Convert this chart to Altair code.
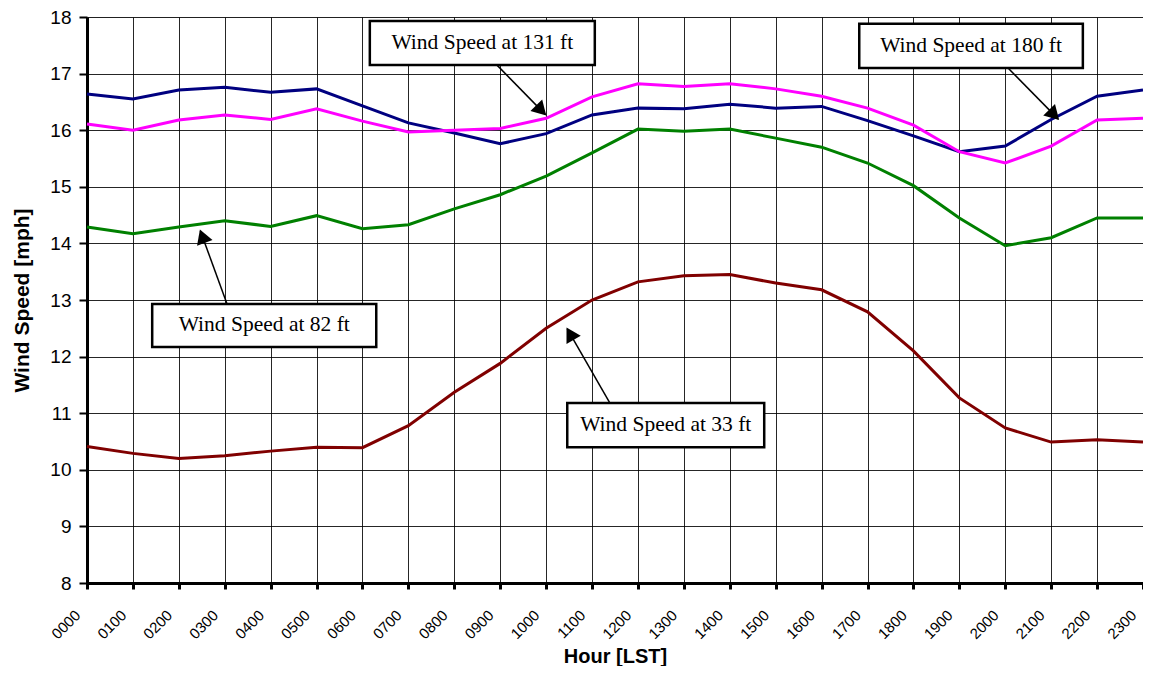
import math
import altair as alt
import pandas as pd

hours = ["0000", "0100", "0200", "0300", "0400", "0500", "0600", "0700", "0800", "0900",
         "1000", "1100", "1200", "1300", "1400", "1500", "1600", "1700", "1800", "1900",
         "2000", "2100", "2200", "2300"]

ws_180 = [16.64, 16.55, 16.71, 16.76, 16.67, 16.73, 16.43, 16.13, 15.95, 15.76,
          15.94, 16.27, 16.39, 16.38, 16.46, 16.39, 16.42, 16.17, 15.90, 15.62,
          15.72, 16.19, 16.60, 16.71]
ws_131 = [16.11, 16.00, 16.18, 16.27, 16.19, 16.38, 16.16, 15.97, 16.00, 16.03,
          16.21, 16.59, 16.82, 16.77, 16.82, 16.73, 16.60, 16.39, 16.09, 15.62,
          15.42, 15.72, 16.18, 16.21]
ws_82 = [14.29, 14.17, 14.29, 14.40, 14.30, 14.49, 14.26, 14.33, 14.61, 14.86,
         15.19, 15.60, 16.02, 15.98, 16.02, 15.86, 15.70, 15.42, 15.02, 14.45,
         13.96, 14.10, 14.45, 14.45]
ws_33 = [10.41, 10.29, 10.20, 10.25, 10.33, 10.40, 10.39, 10.78, 11.37, 11.88,
         12.50, 13.00, 13.32, 13.43, 13.45, 13.30, 13.18, 12.79, 12.10, 11.27,
         10.74, 10.49, 10.53, 10.49]

series_names = ["180 ft", "131 ft", "82 ft", "33 ft"]
series_colors = ["#000080", "#FF00FF", "#008000", "#800000"]

# annotation labels, boxes (hour x1, x2, speed y1, y2) and arrows (from -> to) in data units
ann_text = ["Wind Speed at 131 ft", "Wind Speed at 180 ft", "Wind Speed at 82 ft", "Wind Speed at 33 ft"]
box_x1 = [6.16, 16.82, 1.42, 10.46]
box_x2 = [11.06, 21.69, 6.30, 14.75]
box_y1 = [17.15, 17.10, 12.17, 10.40]
box_y2 = [17.93, 17.88, 12.93, 11.18]
arr_x1 = [8.93, 20.06, 3.05, 11.39]
arr_y1 = [17.15, 17.10, 12.93, 11.18]
arr_x2 = [9.98, 21.15, 2.47, 10.46]
arr_y2 = [16.28, 16.20, 14.22, 12.49]

W, H = 1056, 566
X_MAX, Y_MIN, Y_MAX = 23.0, 8.0, 18.0
px_x = W / X_MAX
px_y = H / (Y_MAX - Y_MIN)

rows = []
for name, vals in zip(series_names, [ws_180, ws_131, ws_82, ws_33]):
    for i, v in enumerate(vals):
        rows.append({"h": float(i), "hour": hours[i], "speed": v, "series": name})
df = pd.DataFrame(rows)

boxes = pd.DataFrame({"x1": box_x1, "x2": box_x2, "y1": box_y1, "y2": box_y2,
                      "xc": [(a + b) / 2 for a, b in zip(box_x1, box_x2)],
                      "yc": [(a + b) / 2 for a, b in zip(box_y1, box_y2)],
                      "label": ann_text})

heads = []
for x1, y1, x2, y2 in zip(arr_x1, arr_y1, arr_x2, arr_y2):
    dx = (x2 - x1) * px_x
    dy = -(y2 - y1) * px_y
    ang = math.degrees(math.atan2(dx, -dy)) % 360
    L = math.hypot(dx, dy)
    back = 8.0
    hx = x2 - (dx / L) * back / px_x
    hy = y2 + (dy / L) * back / px_y
    heads.append({"hx": hx, "hy": hy, "ang": ang})
arrows = pd.DataFrame({"x1": arr_x1, "y1": arr_y1, "x2": arr_x2, "y2": arr_y2})
headdf = pd.DataFrame(heads)

xscale = alt.Scale(domain=[0, X_MAX], nice=False, zero=False)
yscale = alt.Scale(domain=[Y_MIN, Y_MAX], nice=False, zero=False)

label_expr = "pad(format(datum.value * 100, 'd'), 4, '0', 'left')"

x_axis = alt.Axis(values=list(range(24)), labelExpr=label_expr, title="Hour [LST]",
                  labelAngle=-45, labelAlign="right", labelBaseline="bottom",
                  labelFontSize=15, labelFont="Liberation Sans", labelColor="black",
                  labelPadding=29, labelOffset=-4,
                  titleFont="Liberation Sans", titleFontSize=20, titleFontWeight="bold",
                  titleColor="black", titleBaseline="alphabetic", titleY=79,
                  grid=True, gridColor="black", gridWidth=1, gridOpacity=0.85,
                  domainColor="black", domainWidth=3, tickColor="black", tickWidth=3, tickSize=6)
y_axis = alt.Axis(values=list(range(8, 19)), format="d", title="Wind Speed [mph]",
                  labelFontSize=19, labelFont="Liberation Sans", labelColor="black", labelPadding=8,
                  titleFont="Liberation Sans", titleFontSize=21, titleFontWeight="bold",
                  titleColor="black", titlePadding=17,
                  grid=True, gridColor="black", gridWidth=1, gridOpacity=0.85,
                  domainColor="black", domainWidth=3, tickColor="black", tickWidth=2, tickSize=8)

lines = alt.Chart(df).mark_line(strokeWidth=3).encode(
    x=alt.X("h:Q", scale=xscale, axis=x_axis),
    y=alt.Y("speed:Q", scale=yscale, axis=y_axis),
    color=alt.Color("series:N", scale=alt.Scale(domain=series_names, range=series_colors), legend=None),
    detail="series:N",
)

arrow_lines = alt.Chart(arrows).mark_rule(color="black", strokeWidth=1.5).encode(
    x=alt.X("x1:Q", scale=xscale), y=alt.Y("y1:Q", scale=yscale),
    x2="x2:Q", y2="y2:Q",
)
arrow_heads = alt.Chart(headdf).mark_point(shape="triangle", filled=True, color="black",
                                           opacity=1, size=270).encode(
    x=alt.X("hx:Q", scale=xscale), y=alt.Y("hy:Q", scale=yscale),
    angle=alt.Angle("ang:Q", scale=None),
)
box_rects = alt.Chart(boxes).mark_rect(fill="white", stroke="black", strokeWidth=2.5).encode(
    x=alt.X("x1:Q", scale=xscale), x2="x2:Q",
    y=alt.Y("y1:Q", scale=yscale), y2="y2:Q",
)
box_text = alt.Chart(boxes).mark_text(font="Liberation Serif", fontSize=21.5, color="black",
                                      align="center", baseline="middle").encode(
    x=alt.X("xc:Q", scale=xscale), y=alt.Y("yc:Q", scale=yscale), text="label:N",
)

chart = alt.layer(lines, arrow_lines, arrow_heads, box_rects, box_text).properties(
    width=W, height=H,
    autosize=alt.AutoSizeParams(type="none"),
    padding={"left": 79, "top": 9, "right": 0, "bottom": 83},
).configure_view(stroke=None).configure(background="white")

chart.save("out.html", embed_options={"renderer": "svg", "actions": False})
